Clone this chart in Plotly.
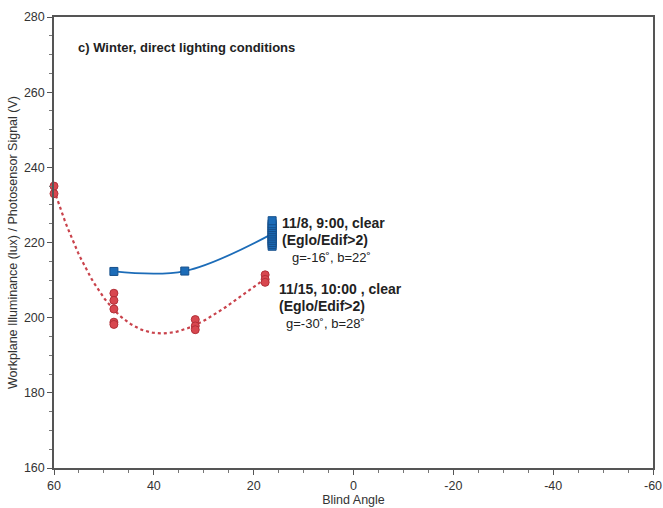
import numpy as np
import plotly.graph_objects as go

# Red series: 11/15, 10:00, clear
red_x = [60, 60, 48, 48, 48, 48, 48, 31.7, 31.7, 31.7, 17.7, 17.7, 17.7]
red_y = [235, 233, 206.5, 204.6, 202.3, 198.8, 198.2, 199.5, 197.8, 196.8, 211.4, 210.2, 209.4]

# Blue series: 11/8, 9:00, clear
blue_x = [48, 33.8, 16.3, 16.3, 16.3, 16.3, 16.3, 16.3, 16.3, 16.3, 16.3, 16.3, 16.3, 16.3, 16.3, 16.3]
blue_y = [212.3, 212.4, 219, 219.5, 220, 220.5, 221, 221.5, 222, 222.5, 223, 223.5, 224, 224.5, 225, 225.8]

# Blue curve anchors (means at each angle)
blue_line_x = [48, 33.8, 16.3]
blue_line_y = [212.3, 212.4, 222.3]

x_ticks = [60, 40, 20, 0, -20, -40, -60]
y_ticks = [160, 180, 200, 220, 240, 260, 280]

RED = "#d8474f"
RED_LINE = "#c9424b"
BLUE = "#1c6cb8"

# red trend curve fitted to the data
rc = np.polyfit(red_x, red_y, 3)
rx = np.linspace(60, 17.7, 80)
ry = np.polyval(rc, rx)

fig = go.Figure()
fig.add_trace(go.Scatter(x=rx, y=ry, mode="lines",
                         line=dict(color=RED_LINE, width=2.2, dash="dot"),
                         hoverinfo="skip", showlegend=False))
fig.add_trace(go.Scatter(x=blue_line_x, y=blue_line_y, mode="lines",
                         line=dict(color=BLUE, width=1.8, shape="spline", smoothing=1.0),
                         hoverinfo="skip", showlegend=False))
fig.add_trace(go.Scatter(x=red_x, y=red_y, mode="markers", cliponaxis=False,
                         marker=dict(symbol="circle", size=8, color=RED,
                                     line=dict(color="#b23038", width=1)),
                         showlegend=False))
fig.add_trace(go.Scatter(x=blue_x, y=blue_y, mode="markers", cliponaxis=False,
                         marker=dict(symbol="square", size=8, color=BLUE,
                                     line=dict(color="#164f8a", width=1)),
                         showlegend=False))

FONT = "Liberation Sans, Arial, sans-serif"
ann = [
    dict(x=55.5, y=271.8, text="<b>c) Winter, direct lighting conditions</b>", size=13),
    dict(x=14.7, y=225.1, text="<b>11/8, 9:00, clear</b>", size=14),
    dict(x=14.7, y=220.6, text="<b>(Eglo/Edif>2)</b>", size=14),
    dict(x=12.8, y=216.1, text="g=-16˚, b=22˚", size=13),
    dict(x=15.3, y=207.5, text="<b>11/15, 10:00 , clear</b>", size=14),
    dict(x=15.3, y=203.0, text="<b>(Eglo/Edif>2)</b>", size=14),
    dict(x=14.0, y=198.4, text="g=-30˚, b=28˚", size=13),
]
for a in ann:
    fig.add_annotation(x=a["x"], y=a["y"], text=a["text"], showarrow=False,
                       xanchor="left", yanchor="middle",
                       font=dict(family=FONT, size=a["size"], color="#222222"))

axis_common = dict(showgrid=False, zeroline=False, showline=True, linecolor="#555555",
                   linewidth=1.5, mirror=True, ticks="outside", ticklen=5,
                   tickcolor="#555555", automargin=False,
                   tickfont=dict(family=FONT, size=12.5, color="#333333"))

fig.update_xaxes(range=[60, -60], tickvals=x_ticks, ticktext=[str(v) for v in x_ticks],
                 minor=dict(dtick=5, ticks="outside", ticklen=3, tickcolor="#777777"),
                 title=dict(text="Blind Angle", font=dict(family=FONT, size=12.5, color="#333333"),
                            standoff=2),
                 **axis_common)
fig.update_yaxes(range=[160, 280], tickvals=y_ticks, ticktext=[str(v) for v in y_ticks],
                 minor=dict(dtick=5, ticks="outside", ticklen=3, tickcolor="#777777"),
                 title=dict(text="Workplane Illuminance (lux) / Photosensor Signal (V)",
                            font=dict(family=FONT, size=12.5, color="#333333"), standoff=4),
                 **axis_common)

fig.update_layout(width=663, height=508, plot_bgcolor="white", paper_bgcolor="white",
                  margin=dict(l=54, r=10, t=17, b=40), showlegend=False)

fig.write_html("out.html", config={"displayModeBar": False},
               post_script="document.body.style.margin='0';document.body.style.overflow='hidden';")
